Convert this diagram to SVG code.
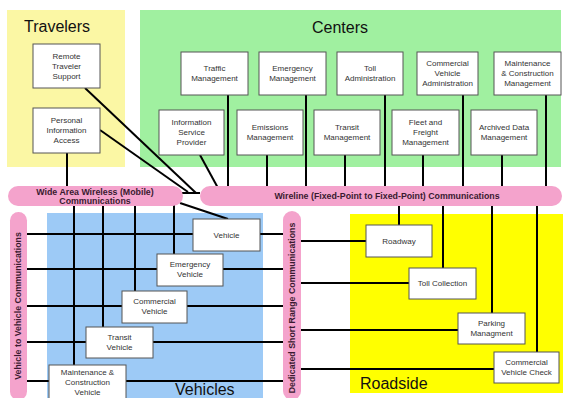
<svg xmlns="http://www.w3.org/2000/svg" width="563" height="398" viewBox="0 0 563 398">
<style>
.box{fill:#fff;stroke:#555;stroke-width:1}
.t{font-family:"Liberation Sans",Arial,sans-serif;font-size:8px;fill:#333;text-anchor:middle}
.b{font-family:"Liberation Sans",Arial,sans-serif;font-size:8.8px;font-weight:bold;fill:#3a1a30;text-anchor:middle}
.big{font-family:"Liberation Sans",Arial,sans-serif;font-size:16px;fill:#111}
.ln{stroke:#000;stroke-width:2;fill:none}
.bar{fill:#f4a3cc}
</style>
<rect width="563" height="398" fill="#fff"/>
<!-- regions -->
<g id="travelers-region"><rect x="7" y="10" width="118" height="157" fill="#fbf7a4"/><text class="big" x="24" y="32">Travelers</text></g>
<g id="centers-region"><rect x="140" y="10" width="421" height="157" fill="#a0f0a0"/><text class="big" x="340" y="33" text-anchor="middle">Centers</text></g>
<g id="vehicles-region"><rect x="47" y="213" width="216" height="185" fill="#9dcaf6"/><text class="big" x="175" y="395">Vehicles</text></g>
<g id="roadside-region"><rect x="350" y="214" width="213" height="179" fill="#ffff00"/><text class="big" x="360" y="389">Roadside</text></g>
<!-- connectors -->
<g id="connectors" class="ln">
<line x1="85" y1="88" x2="196" y2="193"/>
<line x1="100" y1="130" x2="188" y2="192"/>
<line x1="180" y1="193" x2="200" y2="193"/>
<line x1="67" y1="153" x2="67" y2="187"/>
<line x1="228" y1="95" x2="228" y2="187"/>
<line x1="306" y1="95" x2="306" y2="187"/>
<line x1="385" y1="95" x2="385" y2="187"/>
<line x1="463" y1="95" x2="463" y2="187"/>
<line x1="546" y1="95" x2="546" y2="187"/>
<line x1="267" y1="155" x2="267" y2="187"/>
<line x1="345" y1="155" x2="345" y2="187"/>
<line x1="423" y1="155" x2="423" y2="187"/>
<line x1="502" y1="155" x2="502" y2="187"/>
<line x1="200" y1="155" x2="218" y2="188"/>
<line x1="74" y1="205" x2="74" y2="365"/>
<line x1="103" y1="205" x2="103" y2="327"/>
<line x1="135" y1="205" x2="135" y2="291"/>
<line x1="174" y1="205" x2="174" y2="254"/>
<line x1="180" y1="203" x2="228" y2="219"/>
<line x1="27" y1="234" x2="283" y2="234"/>
<line x1="27" y1="269" x2="283" y2="269"/>
<line x1="27" y1="306" x2="283" y2="306"/>
<line x1="27" y1="342" x2="283" y2="342"/>
<line x1="27" y1="381" x2="283" y2="381"/>
<line x1="399" y1="205" x2="399" y2="225"/>
<line x1="443" y1="205" x2="443" y2="268"/>
<line x1="492" y1="205" x2="492" y2="313"/>
<line x1="537" y1="205" x2="537" y2="352"/>
<line x1="301" y1="241" x2="366" y2="241"/>
<line x1="301" y1="283" x2="409" y2="283"/>
<line x1="301" y1="330" x2="458" y2="330"/>
<line x1="301" y1="369" x2="494" y2="369"/>
</g>
<!-- buses -->
<g id="wide-area-wireless"><rect class="bar" x="8" y="186" width="175" height="20" rx="10"/><text class="b" x="95" y="194.5">Wide Area Wireless (Mobile)</text><text class="b" x="95" y="203.5">Communications</text></g>
<g id="wireline"><rect class="bar" x="200" y="186" width="362" height="20" rx="10"/><text class="b" x="387" y="199">Wireline (Fixed-Point to Fixed-Point) Communications</text></g>
<g id="v2v"><rect class="bar" x="10" y="212" width="17" height="188" rx="8.5"/><text class="b" transform="translate(21,306) rotate(-90)">Vehicle to Vehicle Communications</text></g>
<g id="dsrc"><rect class="bar" x="283" y="211" width="18" height="189" rx="9"/><text class="b" transform="translate(295,308) rotate(-90)">Dedicated Short Range Communications</text></g>
<!-- traveler nodes -->
<g id="remote-traveler-support"><rect class="box" x="33" y="44" width="67" height="44"/><text class="t" x="66.5" y="59">Remote</text><text class="t" x="66.5" y="69">Traveler</text><text class="t" x="66.5" y="79">Support</text></g>
<g id="personal-information-access"><rect class="box" x="33" y="108" width="67" height="45"/><text class="t" x="66.5" y="123">Personal</text><text class="t" x="66.5" y="133">Information</text><text class="t" x="66.5" y="143">Access</text></g>
<!-- center nodes -->
<g id="traffic-management"><rect class="box" x="181" y="52" width="67" height="43"/><text class="t" x="214.5" y="71">Traffic</text><text class="t" x="214.5" y="81">Management</text></g>
<g id="emergency-management"><rect class="box" x="259" y="52" width="67" height="43"/><text class="t" x="292.5" y="71">Emergency</text><text class="t" x="292.5" y="81">Management</text></g>
<g id="toll-administration"><rect class="box" x="337" y="52" width="66" height="43"/><text class="t" x="370" y="71">Toll</text><text class="t" x="370" y="81">Administration</text></g>
<g id="commercial-vehicle-administration"><rect class="box" x="417" y="52" width="61" height="43"/><text class="t" x="447.5" y="66">Commercial</text><text class="t" x="447.5" y="76">Vehicle</text><text class="t" x="447.5" y="86">Administration</text></g>
<g id="maintenance-construction-management"><rect class="box" x="494" y="52" width="67" height="43"/><text class="t" x="527.5" y="66">Maintenance</text><text class="t" x="527.5" y="76">&amp; Construction</text><text class="t" x="527.5" y="86">Management</text></g>
<g id="information-service-provider"><rect class="box" x="159" y="110" width="65" height="45"/><text class="t" x="191.5" y="125">Information</text><text class="t" x="191.5" y="135">Service</text><text class="t" x="191.5" y="145">Provider</text></g>
<g id="emissions-management"><rect class="box" x="237" y="110" width="66" height="45"/><text class="t" x="270" y="130">Emissions</text><text class="t" x="270" y="140">Management</text></g>
<g id="transit-management"><rect class="box" x="314" y="110" width="66" height="45"/><text class="t" x="347" y="130">Transit</text><text class="t" x="347" y="140">Management</text></g>
<g id="fleet-freight-management"><rect class="box" x="392" y="110" width="67" height="45"/><text class="t" x="425.5" y="125">Fleet and</text><text class="t" x="425.5" y="135">Freight</text><text class="t" x="425.5" y="145">Management</text></g>
<g id="archived-data-management"><rect class="box" x="471" y="110" width="66" height="45"/><text class="t" x="504" y="130">Archived Data</text><text class="t" x="504" y="140">Management</text></g>
<!-- vehicle nodes -->
<g id="vehicle"><rect class="box" x="193" y="219" width="67" height="32"/><text class="t" x="226.5" y="238">Vehicle</text></g>
<g id="emergency-vehicle"><rect class="box" x="157" y="254" width="66" height="32"/><text class="t" x="190" y="267">Emergency</text><text class="t" x="190" y="277">Vehicle</text></g>
<g id="commercial-vehicle"><rect class="box" x="122" y="291" width="65" height="32"/><text class="t" x="154.5" y="304">Commercial</text><text class="t" x="154.5" y="314">Vehicle</text></g>
<g id="transit-vehicle"><rect class="box" x="86" y="327" width="67" height="31"/><text class="t" x="119.5" y="340">Transit</text><text class="t" x="119.5" y="350">Vehicle</text></g>
<g id="maintenance-construction-vehicle"><rect class="box" x="49" y="365" width="77" height="36"/><text class="t" x="87.5" y="375">Maintenance &amp;</text><text class="t" x="87.5" y="385">Construction</text><text class="t" x="87.5" y="395">Vehicle</text></g>
<!-- roadside nodes -->
<g id="roadway"><rect class="box" x="366" y="225" width="66" height="32"/><text class="t" x="399" y="244">Roadway</text></g>
<g id="toll-collection"><rect class="box" x="409" y="268" width="67" height="31"/><text class="t" x="442.5" y="286">Toll Collection</text></g>
<g id="parking-management"><rect class="box" x="458" y="313" width="67" height="31"/><text class="t" x="491.5" y="326">Parking</text><text class="t" x="491.5" y="336">Managment</text></g>
<g id="commercial-vehicle-check"><rect class="box" x="494" y="352" width="65" height="31"/><text class="t" x="526.5" y="365">Commercial</text><text class="t" x="526.5" y="375">Vehicle Check</text></g>
</svg>
